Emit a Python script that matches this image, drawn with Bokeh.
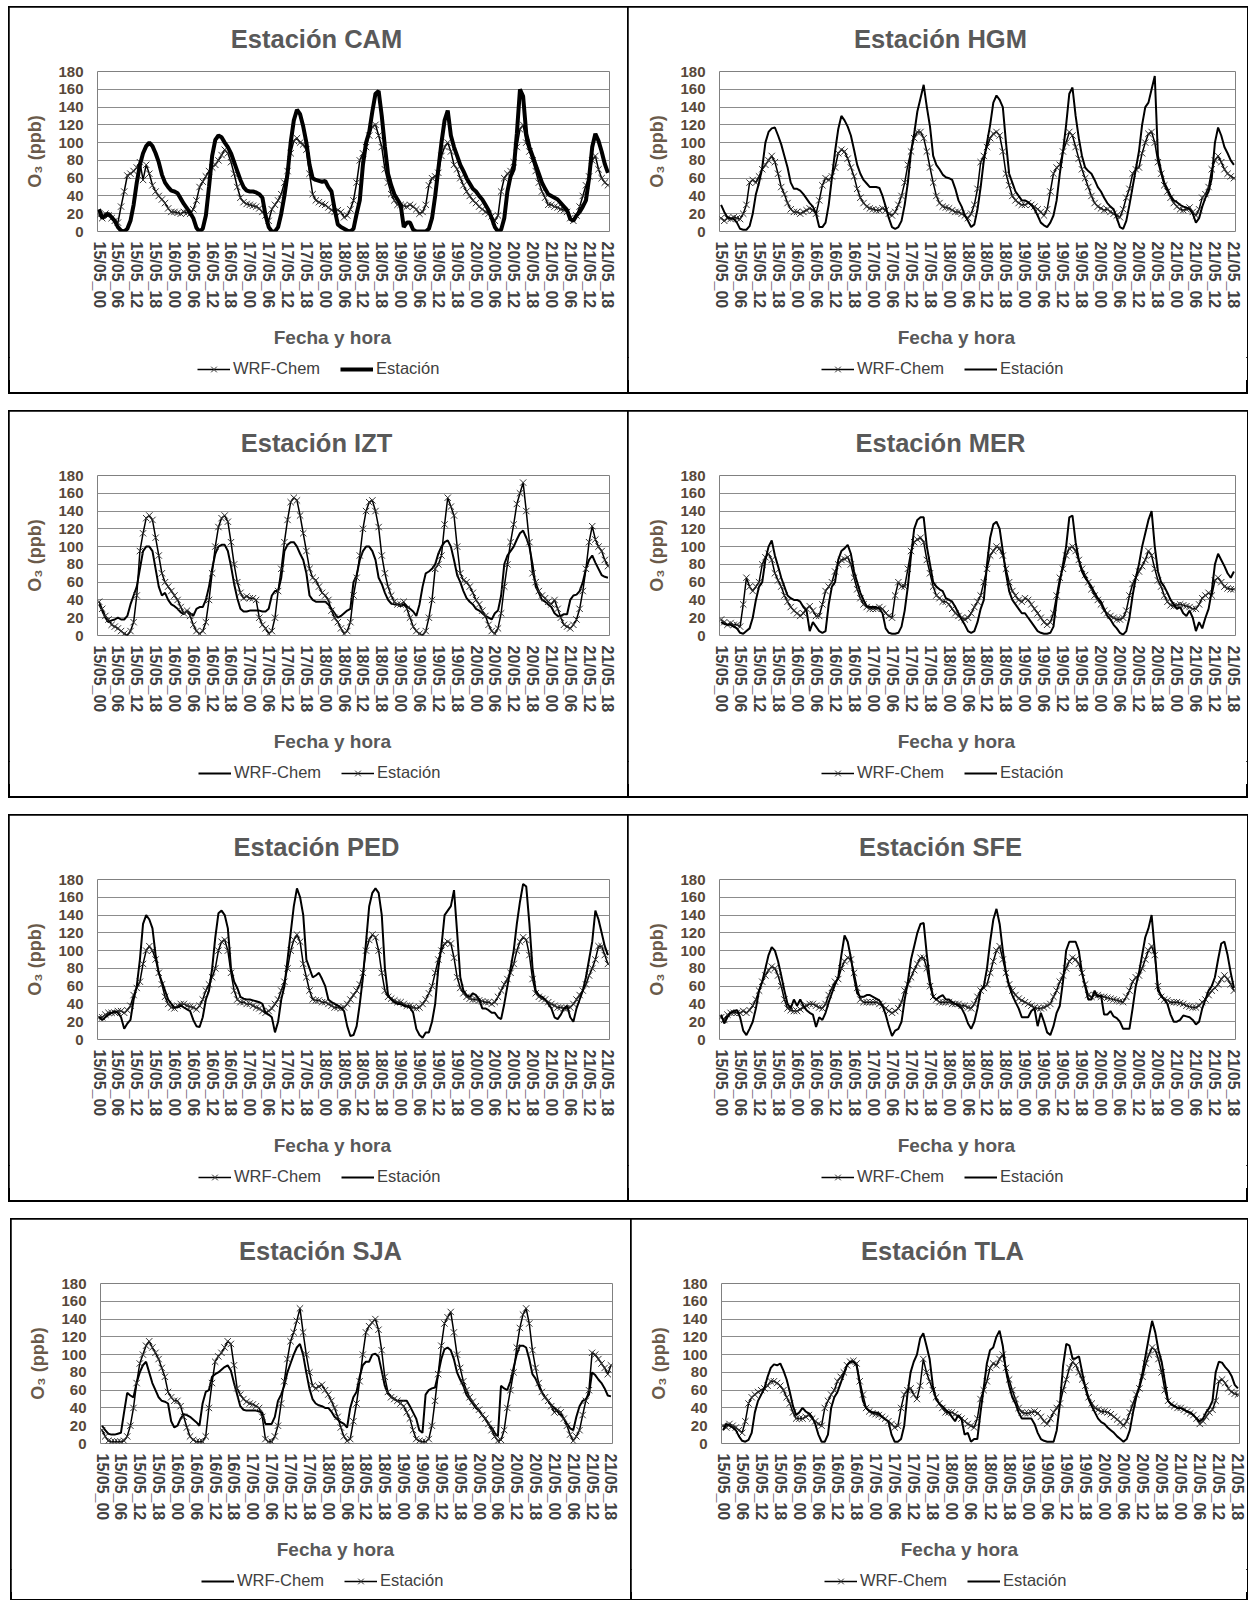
from bokeh.plotting import figure
from bokeh.models import Range1d, FixedTicker, Title, Legend, LegendItem, Spacer
from bokeh.layouts import column, row
from bokeh.embed import file_html
from bokeh.resources import INLINE

# ---------------- data ----------------
TICK_LABELS = ["15/05_00", "15/05_06", "15/05_12", "15/05_18",
               "16/05_00", "16/05_06", "16/05_12", "16/05_18",
               "17/05_00", "17/05_06", "17/05_12", "17/05_18",
               "18/05_00", "18/05_06", "18/05_12", "18/05_18",
               "19/05_00", "19/05_06", "19/05_12", "19/05_18",
               "20/05_00", "20/05_06", "20/05_12", "20/05_18",
               "21/05_00", "21/05_06", "21/05_12", "21/05_18"]
HOURS = list(range(163))  # hourly index 15/05_00 .. 21/05_18

CAM_WRF = [18,15,20,18,15,12,10,28,45,63,65,68,72,78,58,75,65,52,45,40,36,32,26,22,
           22,21,20,22,21,20,25,35,50,56,62,68,72,75,80,86,92,88,78,65,50,38,33,31,
           30,29,28,26,22,18,12,25,30,35,42,55,68,88,102,105,100,98,92,65,42,35,33,31,
           30,27,24,22,24,22,16,18,25,35,55,80,88,95,108,118,120,108,95,70,55,42,35,30,
           30,29,28,30,28,25,20,22,30,52,60,62,66,85,95,100,90,75,70,60,52,45,40,35,
           32,28,25,22,20,17,12,18,45,60,65,68,78,95,115,120,100,90,80,68,55,45,38,30,
           30,28,27,25,24,22,15,12,18,28,40,52,62,80,85,70,60,55,52]
CAM_EST = [25,15,18,20,16,12,5,1,0,3,12,30,55,75,88,96,100,96,88,78,64,55,50,46,
           45,43,37,31,26,21,15,4,0,3,18,50,85,103,108,106,100,95,88,78,68,58,50,46,
           45,45,44,42,38,18,5,0,0,5,20,40,65,100,125,137,132,118,100,75,60,58,57,56,
           57,50,45,25,8,5,3,1,0,3,20,35,75,100,112,135,155,158,130,95,65,52,42,36,
           30,5,10,10,2,0,0,0,0,3,15,40,70,100,125,136,108,95,85,75,68,60,54,48,
           45,40,36,30,24,15,5,0,2,15,45,62,70,110,160,152,110,95,85,75,65,55,48,42,
           40,38,36,32,28,24,14,12,18,22,28,35,60,95,110,102,90,76,66]

HGM_WRF = [15,12,15,14,16,15,14,20,30,55,58,55,62,70,75,80,85,78,65,50,42,32,25,22,
           22,20,22,24,26,24,20,35,52,60,58,62,72,88,92,90,82,72,62,48,38,32,28,26,
           25,24,24,26,24,20,18,22,30,40,55,75,90,105,112,112,105,90,72,55,40,32,28,27,
           26,24,22,22,20,18,15,20,30,48,78,85,95,105,110,112,108,90,65,52,40,35,32,30,
           30,32,30,28,25,22,18,25,45,65,72,75,90,100,112,108,95,82,70,60,50,40,32,28,
           26,24,25,22,20,18,16,25,38,48,65,70,72,88,100,110,112,100,78,65,52,45,38,32,
           28,25,24,25,27,22,18,25,38,42,50,70,80,85,78,70,65,62,60]
HGM_EST = [30,22,16,15,14,10,3,2,2,6,20,42,55,72,100,112,116,117,108,98,85,72,55,48,
           48,46,42,37,32,28,20,5,5,10,30,60,90,115,130,125,118,108,92,75,65,58,54,50,
           50,50,49,40,28,15,5,3,5,12,30,55,90,110,135,150,165,140,118,85,75,70,64,61,
           60,58,48,35,28,18,12,5,8,25,50,80,100,120,145,153,148,140,100,65,55,45,40,35,
           35,33,30,25,18,10,7,5,10,18,35,65,90,120,155,162,130,105,85,72,68,65,58,50,
           45,38,32,28,25,15,5,3,12,30,50,70,90,120,140,145,160,175,85,68,55,48,40,35,
           33,30,28,27,25,20,10,15,28,38,45,60,100,117,108,95,88,80,75]

IZT_WRF = [35,28,20,15,17,18,20,18,18,22,35,45,55,75,95,100,100,95,75,55,45,48,40,35,
           33,30,26,24,28,25,22,30,32,32,40,55,75,92,100,102,102,95,78,58,42,30,27,27,
           28,28,28,28,27,27,30,45,50,50,65,95,102,105,105,100,92,85,70,45,40,38,38,38,
           38,35,30,25,20,22,25,28,30,60,68,85,95,100,100,95,85,65,58,48,40,36,35,35,
           33,35,33,30,27,22,35,55,70,72,75,80,92,100,105,107,100,85,68,60,50,42,38,35,
           30,28,25,22,20,18,25,28,45,80,90,95,100,108,115,118,110,100,80,55,48,40,38,35,
           32,25,22,22,24,24,40,45,46,50,60,75,85,90,82,75,68,66,65]
IZT_EST = [38,30,22,18,12,10,8,5,2,0,5,15,45,95,115,132,135,130,110,90,70,60,55,50,
           45,40,32,25,28,22,12,5,2,5,15,40,70,100,122,132,135,128,105,80,60,48,42,44,
           42,42,40,20,12,8,2,5,20,50,75,105,130,150,155,152,135,115,95,75,65,62,55,48,
           45,40,28,20,15,8,2,5,15,45,65,90,120,140,150,152,140,122,90,70,55,45,38,35,
           35,38,30,20,10,5,2,0,5,20,40,75,80,90,125,155,145,135,100,70,62,60,55,48,
           40,35,28,22,12,5,2,8,25,55,80,105,125,148,160,172,140,105,70,60,50,45,42,38,
           35,40,30,20,12,10,8,12,18,30,50,75,105,123,108,100,95,85,78]

MER_WRF = [18,15,12,14,12,12,10,35,65,55,50,55,60,80,88,92,85,70,62,55,45,38,32,28,
           25,22,25,30,33,28,22,22,35,50,55,60,72,80,85,86,88,80,65,52,42,35,32,30,
           30,30,32,30,25,22,20,45,60,55,55,75,95,105,108,110,105,85,70,55,45,42,38,38,
           35,30,25,22,20,18,20,25,32,38,45,60,75,90,95,100,98,90,75,60,50,45,40,38,
           42,40,35,30,25,20,15,12,15,25,45,65,75,90,98,100,95,85,75,68,60,52,45,40,
           35,28,25,22,20,18,18,20,28,45,58,65,72,78,85,95,90,75,62,55,45,38,34,33,
           34,35,34,33,32,30,30,35,42,45,48,45,62,65,60,55,53,52,52]
MER_EST = [15,13,12,12,10,8,3,2,5,8,20,40,55,60,85,100,107,90,78,65,55,45,42,40,
           40,38,32,28,5,15,10,5,3,5,35,55,60,85,95,98,102,92,72,60,48,40,33,32,
           32,32,30,25,8,3,2,2,3,10,28,55,90,120,130,133,133,100,80,60,55,52,50,42,
           40,38,32,25,18,12,5,3,5,15,30,40,80,110,125,128,120,95,70,50,40,35,30,25,
           25,20,15,10,5,3,2,2,3,10,40,60,80,100,133,135,105,85,72,65,60,55,48,42,
           38,30,22,18,12,8,3,1,5,20,45,65,80,100,115,130,140,100,72,60,55,48,40,35,
           30,32,25,22,28,20,5,15,8,20,30,50,80,92,85,78,70,65,72]

PED_WRF = [25,25,28,30,30,30,32,32,30,33,38,50,58,65,85,100,105,100,90,75,62,48,40,36,
           35,38,40,40,38,37,36,34,38,45,55,62,70,80,100,110,112,100,75,55,45,42,42,40,
           40,38,36,35,32,30,32,35,40,45,55,65,80,100,112,118,110,85,70,55,45,44,44,42,
           42,40,38,36,36,35,36,40,45,50,55,62,75,100,112,118,115,100,75,55,48,46,44,42,
           42,40,38,38,36,35,36,40,45,52,60,75,90,100,108,110,108,92,70,58,52,48,46,45,
           45,44,43,42,42,40,42,48,55,62,68,75,85,100,110,115,112,95,68,52,48,46,45,42,
           40,38,36,36,35,35,36,40,45,50,55,62,72,80,90,105,105,95,85]
PED_EST = [25,22,25,28,30,32,30,25,12,18,22,45,60,90,130,140,135,125,95,75,65,55,45,40,
           36,36,38,36,34,32,22,15,14,25,45,55,80,115,142,145,140,125,80,65,58,48,46,45,
           45,44,43,42,40,30,28,25,8,20,45,60,90,120,150,170,160,140,90,80,70,72,75,68,
           60,45,42,40,38,36,32,15,4,5,15,40,70,110,150,165,170,165,140,80,50,45,42,40,
           40,38,37,36,30,12,5,2,8,8,20,40,80,105,140,145,150,168,120,70,55,50,48,52,
           50,45,35,35,33,30,30,25,23,40,60,80,100,130,155,175,172,130,80,55,50,48,45,40,
           35,25,23,28,35,38,25,20,35,45,55,70,90,110,145,135,120,105,95]

SFE_WRF = [25,22,28,30,30,30,30,32,30,33,38,45,55,65,72,78,82,80,72,60,45,35,33,32,
           32,34,36,38,40,40,38,36,35,40,50,58,65,68,80,88,92,90,75,58,45,42,42,42,
           42,42,40,38,35,32,30,32,35,42,55,62,70,78,85,92,92,80,60,48,45,42,42,42,
           42,40,40,40,38,38,36,35,40,48,55,58,62,75,88,100,105,90,75,62,55,50,46,44,
           42,40,38,36,35,35,36,38,40,48,55,65,72,80,88,92,90,85,75,62,50,48,50,50,
           48,48,47,46,45,44,43,42,48,55,65,70,72,80,90,100,105,95,60,48,45,44,42,42,
           42,41,40,38,37,36,36,38,42,45,50,55,58,62,68,72,68,62,55]
SFE_EST = [28,18,25,30,32,33,25,10,5,12,20,35,55,65,80,95,104,100,88,72,55,40,35,45,
           38,45,38,33,30,28,14,25,22,30,42,52,62,70,95,117,110,92,70,52,48,48,50,50,
           48,46,44,38,28,15,4,10,12,20,45,65,90,105,120,130,131,95,65,48,45,48,50,45,
           45,42,40,38,35,28,18,12,20,35,55,60,80,110,135,147,130,100,75,60,50,42,35,25,
           25,25,32,35,15,30,20,8,5,15,30,38,65,100,110,110,110,100,75,60,45,45,55,48,
           50,28,28,32,26,24,20,12,12,12,35,60,75,95,115,125,140,100,55,50,45,40,28,20,
           20,22,27,26,25,22,17,20,35,45,55,60,70,90,108,110,95,75,58]

SJA_WRF = [20,15,11,10,10,11,12,35,57,54,52,68,80,88,92,80,68,60,52,48,47,45,25,18,
           20,28,33,32,30,27,24,20,45,58,60,75,78,80,83,86,88,82,68,55,42,38,37,37,
           37,37,36,35,22,22,22,30,48,55,65,80,90,100,108,112,100,80,62,50,45,43,42,40,
           40,36,30,27,24,22,18,40,52,58,75,88,92,92,100,101,98,82,65,56,53,50,48,48,
           48,48,42,35,28,15,12,55,60,62,63,78,95,106,108,105,95,80,72,65,55,50,45,40,
           37,32,28,22,18,12,8,65,62,60,70,85,100,110,110,108,95,78,73,65,58,52,48,43,
           40,36,32,28,22,17,15,30,42,48,50,55,80,77,72,68,62,54,53]
SJA_EST = [15,8,3,2,2,2,2,3,8,20,40,68,90,100,110,115,108,102,95,85,75,58,52,48,
           48,42,30,18,8,4,2,2,2,8,40,68,92,98,102,108,115,112,88,62,55,50,47,45,
           44,42,40,30,5,2,2,8,20,45,70,95,115,125,138,152,125,100,80,65,62,64,66,60,
           55,48,40,30,18,8,3,5,25,45,70,100,125,132,136,140,128,105,75,58,52,50,48,45,
           42,35,28,15,5,3,2,2,5,20,48,78,110,135,142,148,125,100,85,70,60,52,47,42,
           38,32,28,22,15,8,3,4,15,40,60,80,108,130,145,152,135,105,85,68,58,52,48,42,
           35,38,35,28,20,10,3,8,15,32,48,60,102,100,95,90,85,78,88]

TLA_WRF = [20,18,22,20,18,15,12,25,45,52,55,58,60,62,65,70,70,68,65,60,52,45,35,28,
           28,28,30,32,28,25,22,20,40,48,55,60,70,75,80,88,92,93,90,70,55,40,36,34,
           33,32,30,28,25,22,18,20,40,55,60,62,55,50,65,95,80,70,60,52,45,40,35,35,
           35,33,30,28,25,22,20,18,28,50,60,70,85,90,88,95,100,85,72,60,50,40,35,34,
           34,35,36,34,30,25,22,28,35,40,45,60,72,85,92,88,80,72,65,52,45,40,38,36,
           36,35,33,30,27,24,20,25,35,45,55,62,75,90,100,108,105,95,80,60,48,44,42,40,
           40,38,36,34,32,28,22,25,30,35,38,48,70,72,68,62,58,56,55]
TLA_EST = [15,22,20,18,15,8,3,2,4,12,35,48,55,62,75,85,89,88,90,82,72,58,42,32,
           35,40,36,34,30,22,10,2,2,10,40,52,58,68,78,88,92,92,88,68,48,40,37,35,
           35,34,30,27,25,10,2,2,5,20,55,80,92,100,118,124,110,95,65,50,45,42,38,35,
           30,25,32,28,10,12,2,5,5,35,62,90,105,108,120,127,110,82,65,52,45,35,28,28,
           28,28,22,12,5,3,2,2,2,15,45,88,112,110,95,96,98,80,62,50,42,35,28,24,
           22,18,15,12,8,5,2,5,15,35,52,65,80,100,120,138,125,105,92,70,48,44,42,40,
           40,38,36,35,32,28,25,28,35,40,48,80,92,91,86,82,76,66,62]

for _s in (CAM_WRF, CAM_EST, HGM_WRF, HGM_EST, IZT_WRF, IZT_EST, MER_WRF, MER_EST,
           PED_WRF, PED_EST, SFE_WRF, SFE_EST, SJA_WRF, SJA_EST, TLA_WRF, TLA_EST):
    assert len(_s) == 163, len(_s)

# ---------------- styling ----------------
FONT = "Liberation Sans"
TITLE_PX = 25.5
# approximate text widths in em (Arial/Liberation Sans Bold advance widths)
TITLE_EM = {"Estación CAM": 6.723, "Estación HGM": 6.779, "Estación IZT": 5.946,
            "Estación MER": 6.668, "Estación PED": 6.502, "Estación SFE": 6.391,
            "Estación SJA": 6.391, "Estación TLA": 6.390}
X_TITLE = "Fecha y hora"
X_TITLE_PAD = "\u00a0" * 8   # shifts the frame-centred axis title left, as in the reference
MAIN_H = 350
LEG_H = 23
MK_COLOR = "#333333"
MK_SIZE = 9


def add_series(fig, wrf, est, wrf_marked, est_w):
    """Draw both series on fig; returns (wrf renderers, estación renderers)."""
    if wrf_marked:
        r_w = [fig.line(HOURS, wrf, line_color="black", line_width=1.5),
               fig.scatter(HOURS, wrf, marker="x", size=MK_SIZE, line_color=MK_COLOR, line_width=1)]
        r_e = [fig.line(HOURS, est, line_color="black", line_width=est_w)]
    else:
        r_w = [fig.line(HOURS, wrf, line_color="black", line_width=2)]
        r_e = [fig.line(HOURS, est, line_color="black", line_width=1.5),
               fig.scatter(HOURS, est, marker="x", size=MK_SIZE, line_color=MK_COLOR, line_width=1)]
    return r_w, r_e


def make_panel(name, wrf, est, wrf_marked, est_w, W, H, fl, fw, tcx, lgx):
    top = 64
    fh = 160
    p = figure(width=W, height=MAIN_H, output_backend="svg", toolbar_location=None,
               title=None,
               x_range=Range1d(-0.5, 162.5), y_range=Range1d(0, 180),
               min_border_left=fl, min_border_right=W - fl - fw,
               min_border_top=top, min_border_bottom=MAIN_H - top - fh,
               background_fill_color="white", border_fill_color="white",
               outline_line_color="#808080", outline_line_width=1)

    tw = TITLE_EM[name] * TITLE_PX
    p.add_layout(Title(text=name, align="left", offset=tcx - tw / 2 - fl,
                       vertical_align="top", standoff=33, text_font=FONT,
                       text_font_size=f"{TITLE_PX}px", text_font_style="bold",
                       text_color="#595959"), "above")

    # x axis
    xa = p.xaxis[0]
    xa.ticker = FixedTicker(ticks=list(range(0, 163, 6)))
    xa.major_label_overrides = {i * 6: lab for i, lab in enumerate(TICK_LABELS)}
    xa.major_label_orientation = "vertical"
    xa.major_label_text_font = FONT
    xa.major_label_text_font_size = "16px"
    xa.major_label_text_font_style = "bold"
    xa.major_label_text_color = "#404040"
    xa.major_label_standoff = 10
    xa.major_tick_out = 0
    xa.major_tick_in = 0
    xa.minor_tick_out = 0
    xa.minor_tick_in = 0
    xa.major_tick_line_color = None
    xa.minor_tick_line_color = None
    xa.axis_line_color = None
    xa.axis_label = X_TITLE + X_TITLE_PAD
    xa.axis_label_standoff = 16
    xa.axis_label_text_font = FONT
    xa.axis_label_text_font_size = "19px"
    xa.axis_label_text_font_style = "bold"
    xa.axis_label_text_color = "#595959"

    # y axis
    ya = p.yaxis[0]
    ya.ticker = FixedTicker(ticks=list(range(0, 181, 20)))
    ya.major_label_text_font = FONT
    ya.major_label_text_font_size = "15px"
    ya.major_label_text_font_style = "bold"
    ya.major_label_text_color = "#574838"
    ya.major_label_standoff = 14
    ya.major_tick_out = 0
    ya.major_tick_in = 0
    ya.minor_tick_out = 0
    ya.minor_tick_in = 0
    ya.major_tick_line_color = None
    ya.minor_tick_line_color = None
    ya.axis_line_color = None
    ya.axis_label = "O₃ (ppb)"
    ya.axis_label_standoff = 10
    ya.axis_label_text_font = FONT
    ya.axis_label_text_font_size = "18px"
    ya.axis_label_text_font_style = "bold"
    ya.axis_label_text_color = "#6a5a4a"

    p.xgrid.visible = False
    p.ygrid.ticker = FixedTicker(ticks=list(range(20, 180, 20)))
    p.ygrid.grid_line_color = "#8c8c8c"
    p.ygrid.grid_line_width = 1.2

    add_series(p, wrf, est, wrf_marked, est_w)

    # legend strip below the chart: same series drawn with the same styles, but the
    # strip's ranges keep the data out of view, so only the legend samples show.
    lg = figure(width=W, height=LEG_H, output_backend="svg", toolbar_location=None,
                title=None, x_axis_type=None, y_axis_type=None,
                x_range=Range1d(1000, 1001), y_range=Range1d(1000, 1001),
                min_border=0, min_border_left=0, min_border_right=0,
                min_border_top=0, min_border_bottom=0,
                outline_line_color=None, background_fill_color="white",
                border_fill_color="white")
    r_w, r_e = add_series(lg, wrf, est, wrf_marked, est_w)
    # the strip's frame is aligned with the chart's frame by the column layout
    legend = Legend(items=[LegendItem(label="WRF-Chem", renderers=r_w),
                           LegendItem(label="Estación", renderers=r_e)],
                    location=(lgx - fl, (LEG_H - 20) / 2), orientation="horizontal",
                    glyph_width=33, glyph_height=20, label_height=20,
                    label_standoff=3, spacing=20, padding=0, margin=0,
                    border_line_color=None, background_fill_alpha=0,
                    label_text_font=FONT, label_text_font_size="16.5px",
                    label_text_color="#404040")
    lg.add_layout(legend)

    return column(p, lg, Spacer(width=W, height=H - MAIN_H - LEG_H),
                  styles={"outline": "2px solid #000000", "outline-offset": "-1px"})


p1 = make_panel("Estación CAM", CAM_WRF, CAM_EST, True, 4, 619, 386, 88, 512, 307, 188)
p2 = make_panel("Estación HGM", HGM_WRF, HGM_EST, True, 2, 619, 386, 91, 516, 312, 193)
p3 = make_panel("Estación IZT", IZT_WRF, IZT_EST, False, 2, 619, 386, 88, 512, 307, 189)
p4 = make_panel("Estación MER", MER_WRF, MER_EST, True, 2, 619, 386, 91, 516, 312, 193)
p5 = make_panel("Estación PED", PED_WRF, PED_EST, True, 2, 619, 386, 88, 512, 307, 189)
p6 = make_panel("Estación SFE", SFE_WRF, SFE_EST, True, 2, 619, 386, 91, 516, 312, 193)
p7 = make_panel("Estación SJA", SJA_WRF, SJA_EST, False, 2, 620, 381, 89, 512, 309, 190)
p8 = make_panel("Estación TLA", TLA_WRF, TLA_EST, True, 2, 616, 381, 90, 518, 311, 193)

layout = column(
    Spacer(height=7),
    row(Spacer(width=9), p1, p2),
    Spacer(height=18),
    row(Spacer(width=9), p3, p4),
    Spacer(height=18),
    row(Spacer(width=9), p5, p6),
    Spacer(height=18),
    row(Spacer(width=11), p7, p8),
)

with open("out.html", "w") as f:
    f.write(file_html(layout, INLINE))
